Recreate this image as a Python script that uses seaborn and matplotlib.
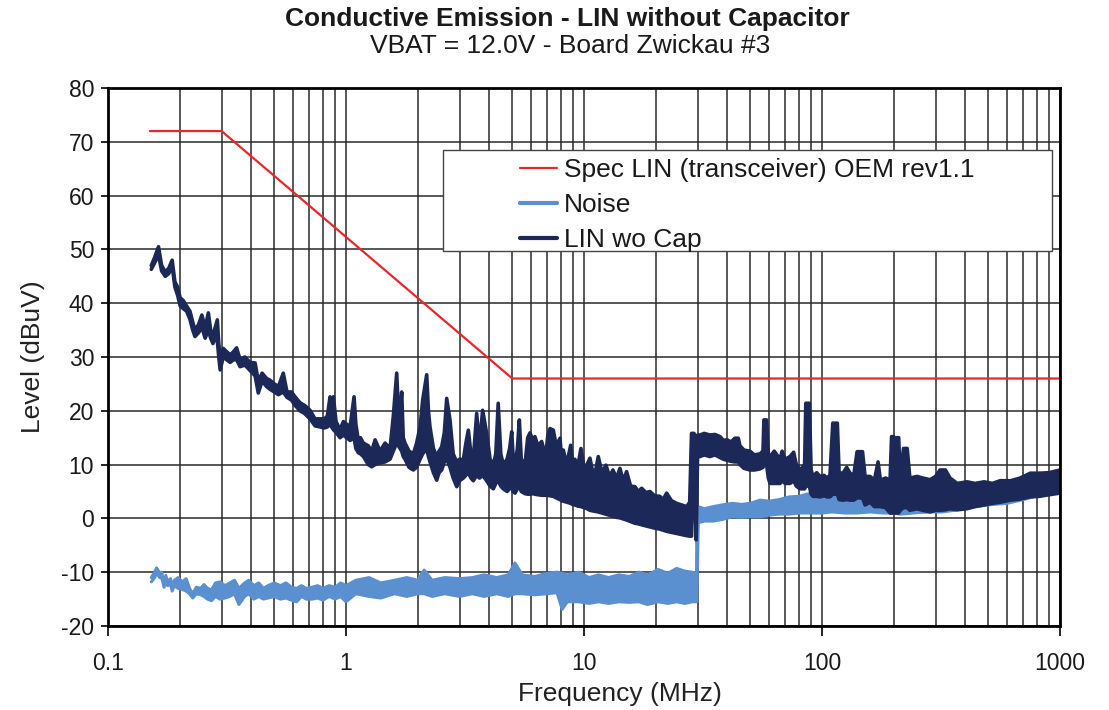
import matplotlib
matplotlib.use("Agg")
import matplotlib.pyplot as plt
from matplotlib.lines import Line2D
from matplotlib.patches import Rectangle
from matplotlib.ticker import LogLocator, NullFormatter, FixedLocator
import seaborn as sns

# ---------------- data ----------------
spec_freq = [0.15, 0.3, 5.0, 1000.0]
spec_level = [72, 72, 26, 26]

lin_freq = [
    0.152, 0.157, 0.163, 0.168, 0.174, 0.180, 0.186, 0.191, 0.196, 0.201,
    0.207, 0.214, 0.221, 0.227, 0.232, 0.240, 0.248, 0.256, 0.264, 0.270,
    0.276, 0.282, 0.288, 0.292, 0.296, 0.305, 0.315, 0.326, 0.337, 0.347,
    0.359, 0.376, 0.395, 0.415, 0.428, 0.444, 0.464, 0.479, 0.500, 0.520,
    0.545, 0.565, 0.590, 0.611, 0.641, 0.670, 0.706, 0.741, 0.778, 0.810,
    0.835, 0.857, 0.870, 0.885, 0.908, 0.944, 0.975, 1.007, 1.040, 1.081,
    1.100, 1.127, 1.150, 1.183, 1.240, 1.283, 1.325, 1.390, 1.459, 1.531,
    1.580, 1.633, 1.660, 1.686, 1.714, 1.740, 1.770, 1.840, 1.918, 1.980,
    2.047, 2.100, 2.183, 2.220, 2.254, 2.330, 2.405, 2.460, 2.524, 2.590,
    2.649, 2.735, 2.820, 2.919, 3.000, 3.112, 3.190, 3.266, 3.350, 3.427,
    3.540, 3.640, 3.750, 3.900, 4.030, 4.160, 4.260, 4.360, 4.470, 4.580,
    4.750, 4.870, 4.970, 5.050, 5.130, 5.250, 5.350, 5.450, 5.650, 5.800,
    5.930, 6.100, 6.220, 6.400, 6.640, 6.900, 7.050, 7.200, 7.430, 7.650,
    7.930, 8.050, 8.190, 8.450, 8.790, 8.950, 9.160, 9.400, 9.710, 10.00,
    10.30, 10.59, 10.90, 11.20, 11.48, 11.90, 12.37, 12.80, 13.23, 13.70,
    14.16, 14.60, 15.10, 15.70, 16.37, 16.90, 17.47, 18.20, 18.93, 19.80,
    20.84, 21.50, 22.24, 23.30, 24.49, 25.70, 26.98, 27.80, 28.30, 29.00,
    29.60, 30.00, 30.70, 32.00, 33.80, 35.50, 37.30, 38.50, 39.90, 41.50,
    43.00, 44.50, 45.20, 47.00, 49.80, 52.00, 54.90, 56.50, 57.00, 58.50,
    59.50, 60.50, 63.00, 66.60, 68.00, 70.00, 73.40, 76.00, 78.00, 80.90,
    84.50, 85.50, 88.50, 90.00, 91.70, 95.00, 98.10, 102.0, 105.0, 108.0,
    111.0, 116.0, 118.0, 122.5, 127.0, 131.2, 136.0, 140.4, 148.0, 151.7,
    159.2, 166.0, 172.0, 176.0, 185.0, 193.2, 196.0, 200.0, 203.0, 206.0,
    210.0, 213.0, 220.0, 228.0, 234.0, 250.7, 265.0, 284.4, 300.0, 313.3,
    330.0, 345.1, 370.0, 406.5, 440.0, 480.0, 520.0, 560.0, 620.0, 680.0,
    750.0, 820.0, 900.0, 1000.0,
]
lin_high = [
    47.0, 48.5, 50.5, 47.0, 45.8, 46.5, 48.0, 44.0, 43.0, 41.0,
    40.5, 39.5, 38.5, 36.5, 35.0, 36.0, 37.8, 35.5, 38.2, 35.0,
    34.0, 35.5, 36.9, 32.5, 30.0, 31.6, 31.0, 30.4, 31.0, 31.7,
    29.5, 30.0, 29.0, 28.9, 25.5, 27.0, 26.0, 25.7, 25.0, 24.5,
    27.0, 23.5, 23.5, 22.6, 21.5, 21.0, 20.1, 18.5, 18.5, 18.5,
    19.0, 22.6, 20.0, 22.6, 18.0, 16.5, 18.0, 17.5, 17.0, 22.6,
    17.5, 14.5, 15.0, 14.0, 13.5, 12.5, 14.6, 12.5, 14.0, 13.0,
    18.9, 27.0, 20.0, 19.0, 23.5, 15.0, 14.0, 12.5, 12.0, 14.0,
    17.0, 22.0, 26.7, 20.0, 17.0, 13.0, 11.5, 12.5, 13.3, 16.0,
    22.3, 18.3, 12.0, 10.5, 11.0, 10.9, 14.0, 16.4, 12.0, 11.0,
    19.5, 13.5, 20.1, 15.8, 11.0, 10.0, 12.0, 21.4, 12.0, 10.0,
    11.0, 13.0, 16.1, 10.5, 10.0, 13.0, 18.3, 11.0, 10.0, 15.0,
    15.9, 14.5, 15.2, 13.5, 14.3, 11.5, 15.5, 16.7, 16.4, 13.5,
    14.9, 11.0, 12.7, 10.0, 13.6, 10.5, 11.0, 9.5, 13.0, 9.5,
    10.0, 11.2, 8.5, 9.0, 11.5, 8.5, 9.9, 7.8, 9.0, 7.5,
    9.3, 7.0, 8.7, 6.0, 5.9, 5.0, 5.6, 4.8, 5.0, 4.2,
    4.1, 3.5, 4.7, 3.3, 2.8, 2.5, 2.2, 3.0, 15.8, 15.8,
    14.0, 15.5, 15.5, 15.8, 15.5, 15.6, 15.2, 14.5, 14.6, 14.2,
    14.9, 14.9, 13.5, 12.7, 12.5, 11.8, 12.0, 12.5, 18.3, 18.3,
    12.0, 11.5, 12.5, 11.0, 12.5, 11.0, 11.5, 12.3, 10.0, 9.0,
    10.0, 21.4, 21.4, 9.0, 7.8, 8.5, 7.8, 8.0, 7.5, 8.0,
    17.7, 17.7, 8.5, 8.4, 9.5, 8.4, 8.0, 12.4, 12.4, 7.8,
    7.8, 7.1, 10.5, 7.1, 7.5, 7.1, 15.2, 15.2, 8.0, 15.0,
    15.0, 7.5, 13.0, 13.0, 7.5, 7.8, 7.5, 7.2, 7.8, 9.0,
    9.0, 7.5, 6.5, 6.8, 6.5, 6.8, 6.5, 7.0, 7.0, 7.5,
    8.4, 8.4, 8.5, 9.0,
]
lin_low = [
    46.3, 47.5, 49.0, 46.0, 45.0, 45.5, 47.0, 43.0, 41.5, 39.5,
    39.0, 38.5, 37.0, 35.0, 33.8, 34.5, 35.5, 33.5, 35.0, 33.5,
    32.5, 33.5, 33.0, 30.0, 27.6, 30.0, 29.5, 29.0, 29.5, 29.5,
    28.2, 28.5, 27.5, 26.5, 23.3, 25.5, 24.5, 24.0, 23.5, 23.0,
    23.5, 22.5, 22.0, 21.0, 20.0, 19.5, 18.5, 17.2, 17.0, 16.8,
    17.0, 17.5, 17.0, 16.5, 16.0, 15.0, 15.5, 15.0, 14.5, 15.0,
    13.0, 12.2, 12.0, 11.5, 10.0, 9.6, 10.0, 10.3, 10.5, 11.0,
    12.5, 14.0, 13.5, 13.0, 12.5, 11.5, 11.0, 9.5, 9.0, 9.5,
    11.0, 12.0, 13.0, 11.5, 10.5, 8.5, 7.1, 8.5, 9.0, 10.5,
    11.0, 9.5, 7.5, 5.9, 7.0, 7.5, 8.0, 8.5, 7.5, 7.0,
    8.0, 7.5, 8.0, 7.0, 6.0, 5.5, 6.5, 7.0, 6.0, 5.5,
    5.0, 5.5, 6.0, 5.0, 4.7, 5.5, 6.0, 5.0, 4.6, 4.5,
    4.5, 4.6, 4.5, 4.4, 4.3, 4.3, 4.3, 4.2, 4.1, 3.8,
    3.5, 3.3, 3.2, 3.0, 2.8, 2.6, 2.5, 2.3, 2.2, 2.0,
    1.8, 1.5, 1.4, 1.3, 1.2, 1.0, 0.8, 0.6, 0.4, 0.2,
    0.1, -0.1, -0.3, -0.6, -0.9, -1.0, -1.2, -1.4, -1.6, -1.8,
    -2.0, -2.2, -2.4, -2.6, -2.8, -3.0, -3.2, -3.3, -3.3, 11.0,
    -4.0, 11.5, 11.5, 11.8, 11.5, 11.8, 11.3, 11.0, 10.8, 10.6,
    10.5, 10.5, 10.0, 9.3, 9.0, 9.0, 9.2, 9.5, 10.0, 10.0,
    7.5, 6.5, 6.5, 6.5, 7.0, 6.5, 6.5, 7.0, 6.0, 5.5,
    5.5, 6.0, 6.0, 4.5, 4.1, 4.1, 4.0, 4.2, 4.0, 4.0,
    4.5, 4.5, 3.5, 3.4, 3.5, 3.4, 3.4, 3.8, 3.8, 2.5,
    3.0, 2.2, 2.2, 2.2, 2.0, 1.0, 1.0, 1.0, 1.0, 1.0,
    1.0, 1.5, 2.0, 2.0, 1.5, 1.8, 1.5, 1.2, 1.5, 1.5,
    1.6, 1.8, 1.6, 1.8, 2.2, 2.5, 2.8, 3.0, 3.4, 3.6,
    4.0, 4.1, 4.4, 4.7,
]

noise_freq = [
    0.152, 0.157, 0.160, 0.165, 0.168, 0.172, 0.175, 0.178, 0.183, 0.186,
    0.190, 0.197, 0.205, 0.213, 0.220, 0.227, 0.235, 0.245, 0.253, 0.262,
    0.272, 0.283, 0.295, 0.310, 0.325, 0.340, 0.355, 0.375, 0.390, 0.410,
    0.430, 0.450, 0.470, 0.500, 0.530, 0.560, 0.590, 0.620, 0.650, 0.680,
    0.720, 0.760, 0.800, 0.850, 0.900, 0.950, 1.000, 1.100, 1.250, 1.400,
    1.600, 1.800, 2.000, 2.130, 2.300, 2.600, 3.000, 3.400, 3.800, 4.300,
    4.800, 5.130, 5.500, 6.200, 7.000, 7.700, 8.100, 8.500, 9.500, 10.50,
    11.50, 12.70, 14.00, 15.50, 17.00, 18.50, 20.50, 22.50, 24.50, 26.50,
    28.50, 29.70, 29.80, 30.20, 32.00, 35.00, 38.00, 42.00, 46.00, 50.00,
    55.00, 60.00, 66.00, 73.00, 80.00, 90.00, 100.0, 110.0, 125.0, 140.0,
    160.0, 180.0, 195.0, 215.0, 240.0, 280.0, 320.0, 360.0, 410.0, 460.0,
    520.0, 600.0, 700.0, 800.0, 900.0, 1000.0,
]
noise_high = [
    -11.0, -10.0, -9.2, -10.2, -10.0, -12.1, -10.6, -11.8, -11.2, -12.8,
    -11.5, -11.0, -11.8, -11.2, -13.0, -14.0, -12.8, -13.0, -12.3, -13.0,
    -13.3, -12.0, -11.8, -12.5, -12.0, -11.5, -13.0, -12.0, -11.5, -12.5,
    -12.0, -13.0, -12.5, -12.0, -12.5, -12.0, -12.8, -13.0, -12.5, -13.0,
    -12.8, -12.5, -13.0, -12.5, -12.8, -12.0, -12.5, -11.5, -11.0, -12.0,
    -11.5, -11.0, -11.5, -9.6, -11.5, -11.0, -11.2, -11.0, -10.5, -11.0,
    -10.5, -8.3, -10.5, -10.8, -10.2, -10.0, -10.2, -10.5, -10.0, -11.0,
    -10.5, -11.0, -10.5, -10.8, -10.0, -10.5, -9.5, -10.2, -9.3, -9.8,
    -10.0, -10.2, 0.0, 2.2, 1.8, 2.2, 2.5, 2.8, 2.6, 2.8,
    3.4, 3.2, 3.5, 4.0, 4.1, 4.7, 4.5, 4.2, 4.5, 4.7,
    4.4, 4.5, 5.3, 5.3, 4.4, 4.1, 4.4, 4.1, 4.5, 5.0,
    5.5, 5.9, 6.8, 7.5, 8.2, 9.0,
]
noise_low = [
    -11.8, -11.0, -10.2, -11.0, -11.0, -12.8, -11.5, -12.5, -12.2, -13.5,
    -12.5, -13.0, -13.2, -13.5, -14.0, -14.8, -14.0, -14.2, -14.5, -15.0,
    -15.3, -14.5, -15.0, -14.8, -14.5, -14.0, -16.0, -14.5, -14.0, -15.0,
    -14.5, -15.0, -14.8, -14.5, -15.0, -14.8, -15.2, -15.5, -14.5, -15.0,
    -15.0, -14.8, -15.2, -14.5, -15.0, -14.5, -15.5, -14.0, -14.5, -14.8,
    -14.0, -14.5, -14.0, -14.0, -14.5, -14.0, -14.5, -14.0, -14.5, -14.0,
    -14.5, -14.0, -14.0, -14.2, -14.0, -13.8, -16.9, -15.5, -15.5, -15.8,
    -15.5, -15.8, -15.5, -15.6, -15.5, -16.0, -15.5, -15.8, -15.5, -15.8,
    -15.5, -15.5, -15.5, -0.8, -0.5, -0.5, -0.2, 0.3, 0.2, 0.3,
    0.3, 0.6, 0.8, 0.8, 1.0, 1.0, 1.0, 1.2, 1.0, 1.0,
    1.2, 1.0, 1.0, 0.8, 1.0, 1.2, 1.2, 1.5, 2.0, 2.3,
    2.6, 2.8, 3.5, 4.2, 4.8, 5.3,
]

series_names = ["Spec LIN (transceiver) OEM rev1.1", "Noise", "LIN wo Cap"]
x_ticks = [0.1, 1, 10, 100, 1000]
x_ticklabels = ["0.1", "1", "10", "100", "1000"]
y_ticks = list(range(-20, 81, 10))

# ---------------- style ----------------
RED = "#e8262b"
LIGHT = "#5a8fd0"
NAVY = "#1c2858"
FONT = ["Liberation Sans", "DejaVu Sans"]

sns.set_theme(style="white")
plt.rcParams["font.family"] = FONT

fig = plt.figure(figsize=(11.09, 7.10), dpi=100)
ax = fig.add_axes([108 / 1109, 1 - 626 / 710, 952 / 1109, 538 / 710])

# noise
ax.fill_between(noise_freq, noise_low, noise_high, color=LIGHT, lw=0, zorder=3)
sns.lineplot(x=noise_freq, y=noise_high, ax=ax, color=LIGHT, lw=2.2,
             estimator=None, sort=False, zorder=3)
sns.lineplot(x=noise_freq, y=noise_low, ax=ax, color=LIGHT, lw=2.2,
             estimator=None, sort=False, zorder=3)
# LIN wo Cap
ax.fill_between(lin_freq, lin_low, lin_high, color=NAVY, lw=0, zorder=4)
sns.lineplot(x=lin_freq, y=lin_high, ax=ax, color=NAVY, lw=2.6,
             estimator=None, sort=False, zorder=4)
sns.lineplot(x=lin_freq, y=lin_low, ax=ax, color=NAVY, lw=2.6,
             estimator=None, sort=False, zorder=4)
# spec
sns.lineplot(x=spec_freq, y=spec_level, ax=ax, color=RED, lw=1.6,
             estimator=None, sort=False, zorder=5)

ax.set_xscale("log")
ax.set_xlim(0.1, 1000)
ax.set_ylim(-20, 80)
ax.xaxis.set_major_locator(FixedLocator(x_ticks))
ax.set_xticklabels(x_ticklabels)
ax.xaxis.set_minor_locator(LogLocator(base=10, subs=range(2, 10)))
ax.xaxis.set_minor_formatter(NullFormatter())
ax.set_yticks(y_ticks)
ax.set_yticklabels([str(v) for v in y_ticks])

ax.grid(which="major", axis="both", color="#2a2a2a", lw=1.1, zorder=1)
ax.grid(which="minor", axis="x", color="#2a2a2a", lw=1.1, zorder=1)
for sp in ax.spines.values():
    sp.set_color("black")
    sp.set_linewidth(2.0)
    sp.set_zorder(6)

ax.tick_params(axis="x", which="major", direction="out", length=7, width=1.2,
               color="black", labelsize=16.5, pad=12, bottom=True)
ax.tick_params(axis="x", which="minor", length=0)
ax.tick_params(axis="y", which="major", direction="out", length=5, width=1.2,
               color="black", labelsize=16.5, pad=5, left=True)
for t in ax.get_xticklabels() + ax.get_yticklabels():
    t.set_color("#1a1a1a")

ax.set_xlabel("Frequency (MHz)", fontsize=19, color="#222222", va="center")
ax.set_ylabel("Level (dBuV)", fontsize=19, color="#222222", va="center")
ax.xaxis.set_label_coords((620 - 108) / 952, -(694 - 626) / 538)
ax.yaxis.set_label_coords(-(108 - 33) / 952, 0.5)

fig.text(567 / 1109, 1 - 19 / 710, "Conductive Emission - LIN without Capacitor",
         ha="center", va="center", fontsize=19, fontweight="bold", color="#1a1a1a")
fig.text(570 / 1109, 1 - 46 / 710, "VBAT = 12.0V - Board Zwickau #3",
         ha="center", va="center", fontsize=19, color="#1a1a1a")

# legend
box = Rectangle(((443 - 108) / 952, (626 - 251) / 538), (1052 - 443) / 952, 101 / 538,
                transform=ax.transAxes, facecolor="white", edgecolor="#444444",
                lw=1.0, zorder=7)
ax.add_patch(box)
handles = [Line2D([], [], color=RED, lw=1.6),
           Line2D([], [], color=LIGHT, lw=3.0),
           Line2D([], [], color=NAVY, lw=3.0)]
leg = ax.legend(handles, series_names, loc="upper left",
                bbox_to_anchor=((515 - 108) / 952, (626 - 153) / 538),
                frameon=False, fontsize=19, handlelength=1.4, handletextpad=0.25,
                labelspacing=0.42, borderpad=0.2, borderaxespad=0)
leg.set_zorder(8)
for t in leg.get_texts():
    t.set_color("#1a1a1a")

fig.savefig("out.png", dpi=100, facecolor="white")
